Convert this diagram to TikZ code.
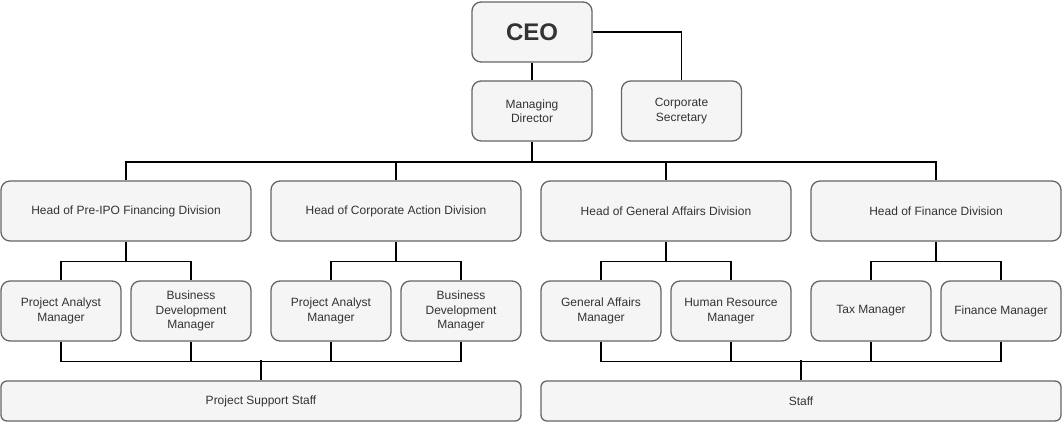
\documentclass[tikz,border=0pt]{standalone}
\usepackage{fontspec}
\setmainfont{Liberation Sans}
\usepackage{xcolor}
\usetikzlibrary{positioning,calc}

\definecolor{boxfill}{HTML}{F5F5F5}
\definecolor{boxline}{HTML}{666666}
\definecolor{txt}{HTML}{333333}

\tikzset{
  unit/.style={draw=boxline, fill=boxfill, line width=1.3pt, rounded corners=9pt,
    align=center, text=txt, inner sep=2pt, font=\fontsize{12}{14.5}\selectfont},
  topbox/.style={unit, minimum width=120pt, minimum height=60pt},
  headbox/.style={unit, minimum width=250pt, minimum height=60pt},
  mgrbox/.style={unit, minimum width=120pt, minimum height=60pt},
  staffbar/.style={unit, rounded corners=6pt, minimum width=520pt, minimum height=40pt},
  link/.style={draw=black, line width=1.4pt},
  trunk/.style={draw=black, line width=2.4pt}
}

\begin{document}
\begin{tikzpicture}[x=1pt,y=-1pt]
    \useasboundingbox (0,0) rectangle (1062,422);

    % Top management
    \node[topbox, font=\fontsize{24}{28}\selectfont\bfseries] (ceo) at (532,32) {CEO};
    \node[topbox] (md) at (532,111) {Managing\\Director};
    \node[topbox] (sec) at (681.5,111) {Corporate\\Secretary};

    % Division heads
    \node[headbox] (h1) at (126,211) {Head of Pre-IPO Financing Division};
    \node[headbox] (h2) at (396,211) {Head of Corporate Action Division};
    \node[headbox] (h3) at (666,211) {Head of General Affairs Division};
    \node[headbox] (h4) at (936,211) {Head of Finance Division};

    % Managers
    \node[mgrbox] (m1) at (61,311) {Project Analyst\\Manager};
    \node[mgrbox] (m2) at (191,311) {Business\\Development\\Manager};
    \node[mgrbox] (m3) at (331,311) {Project Analyst\\Manager};
    \node[mgrbox] (m4) at (461,311) {Business\\Development\\Manager};
    \node[mgrbox] (m5) at (601,311) {General Affairs\\Manager};
    \node[mgrbox] (m6) at (731,311) {Human Resource\\Manager};
    \node[mgrbox] (m7) at (871,311) {Tax Manager};
    \node[mgrbox] (m8) at (1001,311) {Finance Manager};

    % Staff
    \node[staffbar] (s1) at (261,401) {Project Support Staff};
    \node[staffbar] (s2) at (801,401) {Staff};

    % Connectors
    \draw[link] (ceo) -- (md);
    \draw[link] (ceo.east) -| (sec.north);
    \coordinate (bus) at (532,162);
    \draw[trunk] (md.south) -- (bus);
    \foreach \h in {h1,h2,h3,h4}
        \draw[link] (bus) -| (\h.north);

    \foreach \h/\a/\b in {h1/m1/m2, h2/m3/m4, h3/m5/m6, h4/m7/m8} {
        \draw[trunk] (\h.south) -- ++(0,20) coordinate (\h-fork);
        \draw[link] (\h-fork) -| (\a.north);
        \draw[link] (\h-fork) -| (\b.north);
    }

    \foreach \m/\s in {m1/s1, m2/s1, m3/s1, m4/s1, m5/s2, m6/s2, m7/s2, m8/s2}
        \draw[link] (\m.south) -- ++(0,20) -| (\s.north);
    \draw[trunk] ($(s1.north)+(0,-20)$) -- (s1.north);
    \draw[trunk] ($(s2.north)+(0,-20)$) -- (s2.north);
\end{tikzpicture}
\end{document}
